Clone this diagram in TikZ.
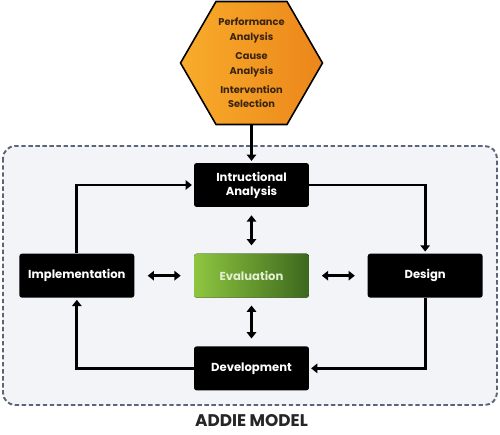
\documentclass[tikz,border=0pt]{standalone}
\usepackage{fontspec}
\setmainfont{Poppins}
\usetikzlibrary{arrows.meta,shapes.geometric,positioning}

\definecolor{hexlight}{HTML}{F8AC2A}
\definecolor{hexdark}{HTML}{EC861B}
\definecolor{hextext}{HTML}{3A2410}
\definecolor{evallight}{HTML}{8EC640}
\definecolor{evaldark}{HTML}{3C681D}
\definecolor{evaltext}{HTML}{E4EFD2}
\definecolor{framefill}{HTML}{F3F4F8}
\definecolor{frameline}{HTML}{5B6479}

\tikzset{
  stage/.style={fill=black, text=white, font=\bfseries\fontsize{6.6}{8}\selectfont,
    minimum width=2.3cm, minimum height=0.88cm, rounded corners=1.5pt, align=center, inner sep=1pt},
  evalstage/.style={stage, left color=evallight, right color=evaldark, text=evaltext},
  flow/.style={->, line width=1.6pt, shorten >=1pt},
  both/.style={<->, line width=1.6pt},
}

\begin{document}
\begin{tikzpicture}[x=0.02cm,y=-0.02cm,>={Triangle[length=3.6pt,width=5.4pt]},node distance=0.92cm and 1.18cm]
  \useasboundingbox (0,0) rectangle (500,435);
  % frame of the model
  \draw[fill=framefill, draw=frameline, line width=1.1pt, dash pattern=on 2.5pt off 1.5pt,
    rounded corners=7pt] (3,146) rectangle (497,405);

  % analysis hexagon
  \node[regular polygon, regular polygon sides=6, minimum size=2.84cm, inner sep=0pt,
    left color=hexlight, right color=hexdark, draw=black, line width=0.9pt] (hx) at (251.5,63) {};
  \node[text=hextext, font=\bfseries\fontsize{5.6}{8.3}\selectfont, align=center] (hxt) at (hx.center)
    {Performance\\Analysis\\[2.6pt]Cause\\Analysis\\[2.6pt]Intervention\\Selection};

  % ADDIE stages
  \node[stage] (ia) at (251.5,185) {Intructional\\Analysis};
  \node[evalstage] (ev) [below=of ia] {Evaluation};
  \node[stage] (im) [left=of ev] {Implementation};
  \node[stage] (ds) [right=1.16cm of ev] {Design};
  \node[stage] (dv) [below=0.96cm of ev] {Development};

  \node[font=\bfseries\fontsize{9.6}{11}\selectfont, text=black!85] (title) at (251.5,421) {ADDIE MODEL};

  \draw[flow] (hx.south) -- (ia.north);
  \draw[flow] (ia.east) -| (ds.north);
  \draw[flow] (ds.south) |- (dv.east);
  \draw[flow] (dv.west) -| (im.south);
  \draw[flow] (im.north) |- (ia.west);

  \draw[both, shorten <=0.16cm, shorten >=0.16cm] (ia) -- (ev);
  \draw[both, shorten <=0.15cm, shorten >=0.15cm] (ev) -- (dv);
  \draw[both, shorten <=0.26cm, shorten >=0.26cm] (im) -- (ev);
  \draw[both, shorten <=0.25cm, shorten >=0.25cm] (ev) -- (ds);
\end{tikzpicture}
\end{document}
